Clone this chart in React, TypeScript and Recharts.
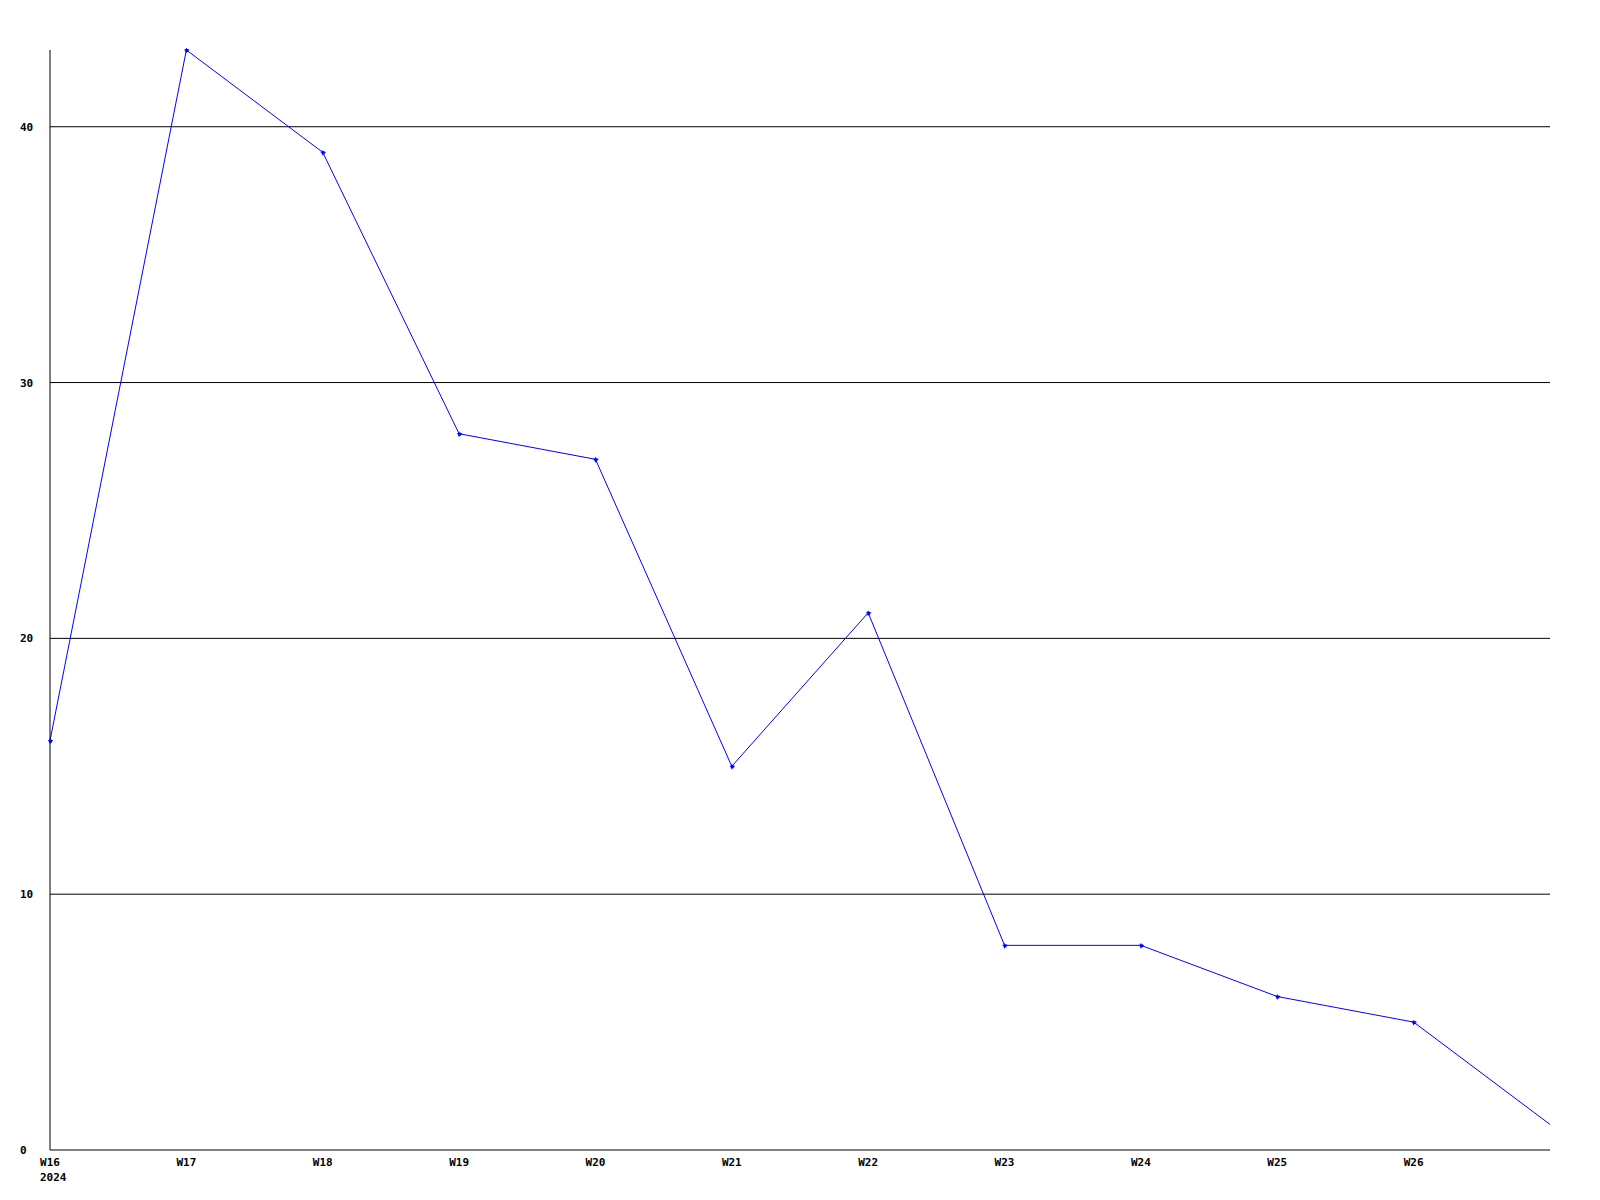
import { LineChart, Line, XAxis, YAxis, CartesianGrid } from "recharts";

const weeks = ["W16", "W17", "W18", "W19", "W20", "W21", "W22", "W23", "W24", "W25", "W26", "W27"];
const counts = [16, 43, 39, 28, 27, 15, 21, 8, 8, 6, 5, 1];
const weekLabels = ["W16", "W17", "W18", "W19", "W20", "W21", "W22", "W23", "W24", "W25", "W26", ""];
const yearLabel = "2024";
const yTicks = [0, 10, 20, 30, 40];
const gridValues = [10, 20, 30, 40];

const data = weeks.map((w, i) => ({ week: w, count: counts[i] }));

const FONT = "'DejaVu Sans Mono', monospace";

function WeekTick(props: any) {
  const { x, y, index } = props;
  const label = weekLabels[index] ?? "";
  return (
    <g>
      <text x={x} y={y + 16} textAnchor="middle" fontFamily={FONT} fontSize={11} fontWeight="bold" fill="#000">
        {label}
      </text>
      {index === 0 && (
        <text x={x - 10} y={y + 31} textAnchor="start" fontFamily={FONT} fontSize={11} fontWeight="bold" fill="#000">
          {yearLabel}
        </text>
      )}
    </g>
  );
}

// y labels are left aligned in a column 30px left of the axis
function CountTick(props: any) {
  const { x, y, payload } = props;
  return (
    <text x={x} y={y + 4} textAnchor="start" fontFamily={FONT} fontSize={11} fontWeight="bold" fill="#000">
      {payload.value}
    </text>
  );
}

// the last point (current week) has no marker
function Marker(props: any) {
  const { cx, cy, index } = props;
  if (index === counts.length - 1) return <g key={index} />;
  return (
    <g key={index}>
      <rect x={cx - 2} y={cy - 0.5} width={5} height={1} fill="#0000ff" />
      <rect x={cx - 0.5} y={cy - 2} width={1} height={5} fill="#0000ff" />
      <rect x={cx - 1} y={cy - 1} width={3} height={3} fill="#0000ff" />
    </g>
  );
}

export default function App() {
  return (
    <div style={{ position: "absolute", left: 0, top: 0, width: 1600, height: 1200, background: "#fff" }}>
      <LineChart width={1600} height={1200} data={data} margin={{ top: 50, right: 50, left: 0, bottom: 0 }}>
        <CartesianGrid vertical={false} stroke="#000" strokeWidth={1} horizontalValues={gridValues} />
        <XAxis
          dataKey="week"
          axisLine={{ stroke: "#000" }}
          tickLine={false}
          tickSize={0}
          tickMargin={0}
          height={50}
          interval={0}
          tick={<WeekTick />}
        />
        <YAxis
          domain={[0, 43]}
          ticks={yTicks}
          width={50}
          axisLine={{ stroke: "#000" }}
          tickLine={false}
          tickSize={0}
          tickMargin={30}
          tick={<CountTick />}
        />
        <Line
          type="linear"
          dataKey="count"
          stroke="#0000ff"
          strokeWidth={1}
          dot={<Marker />}
          activeDot={false}
          isAnimationActive={false}
        />
      </LineChart>
    </div>
  );
}
